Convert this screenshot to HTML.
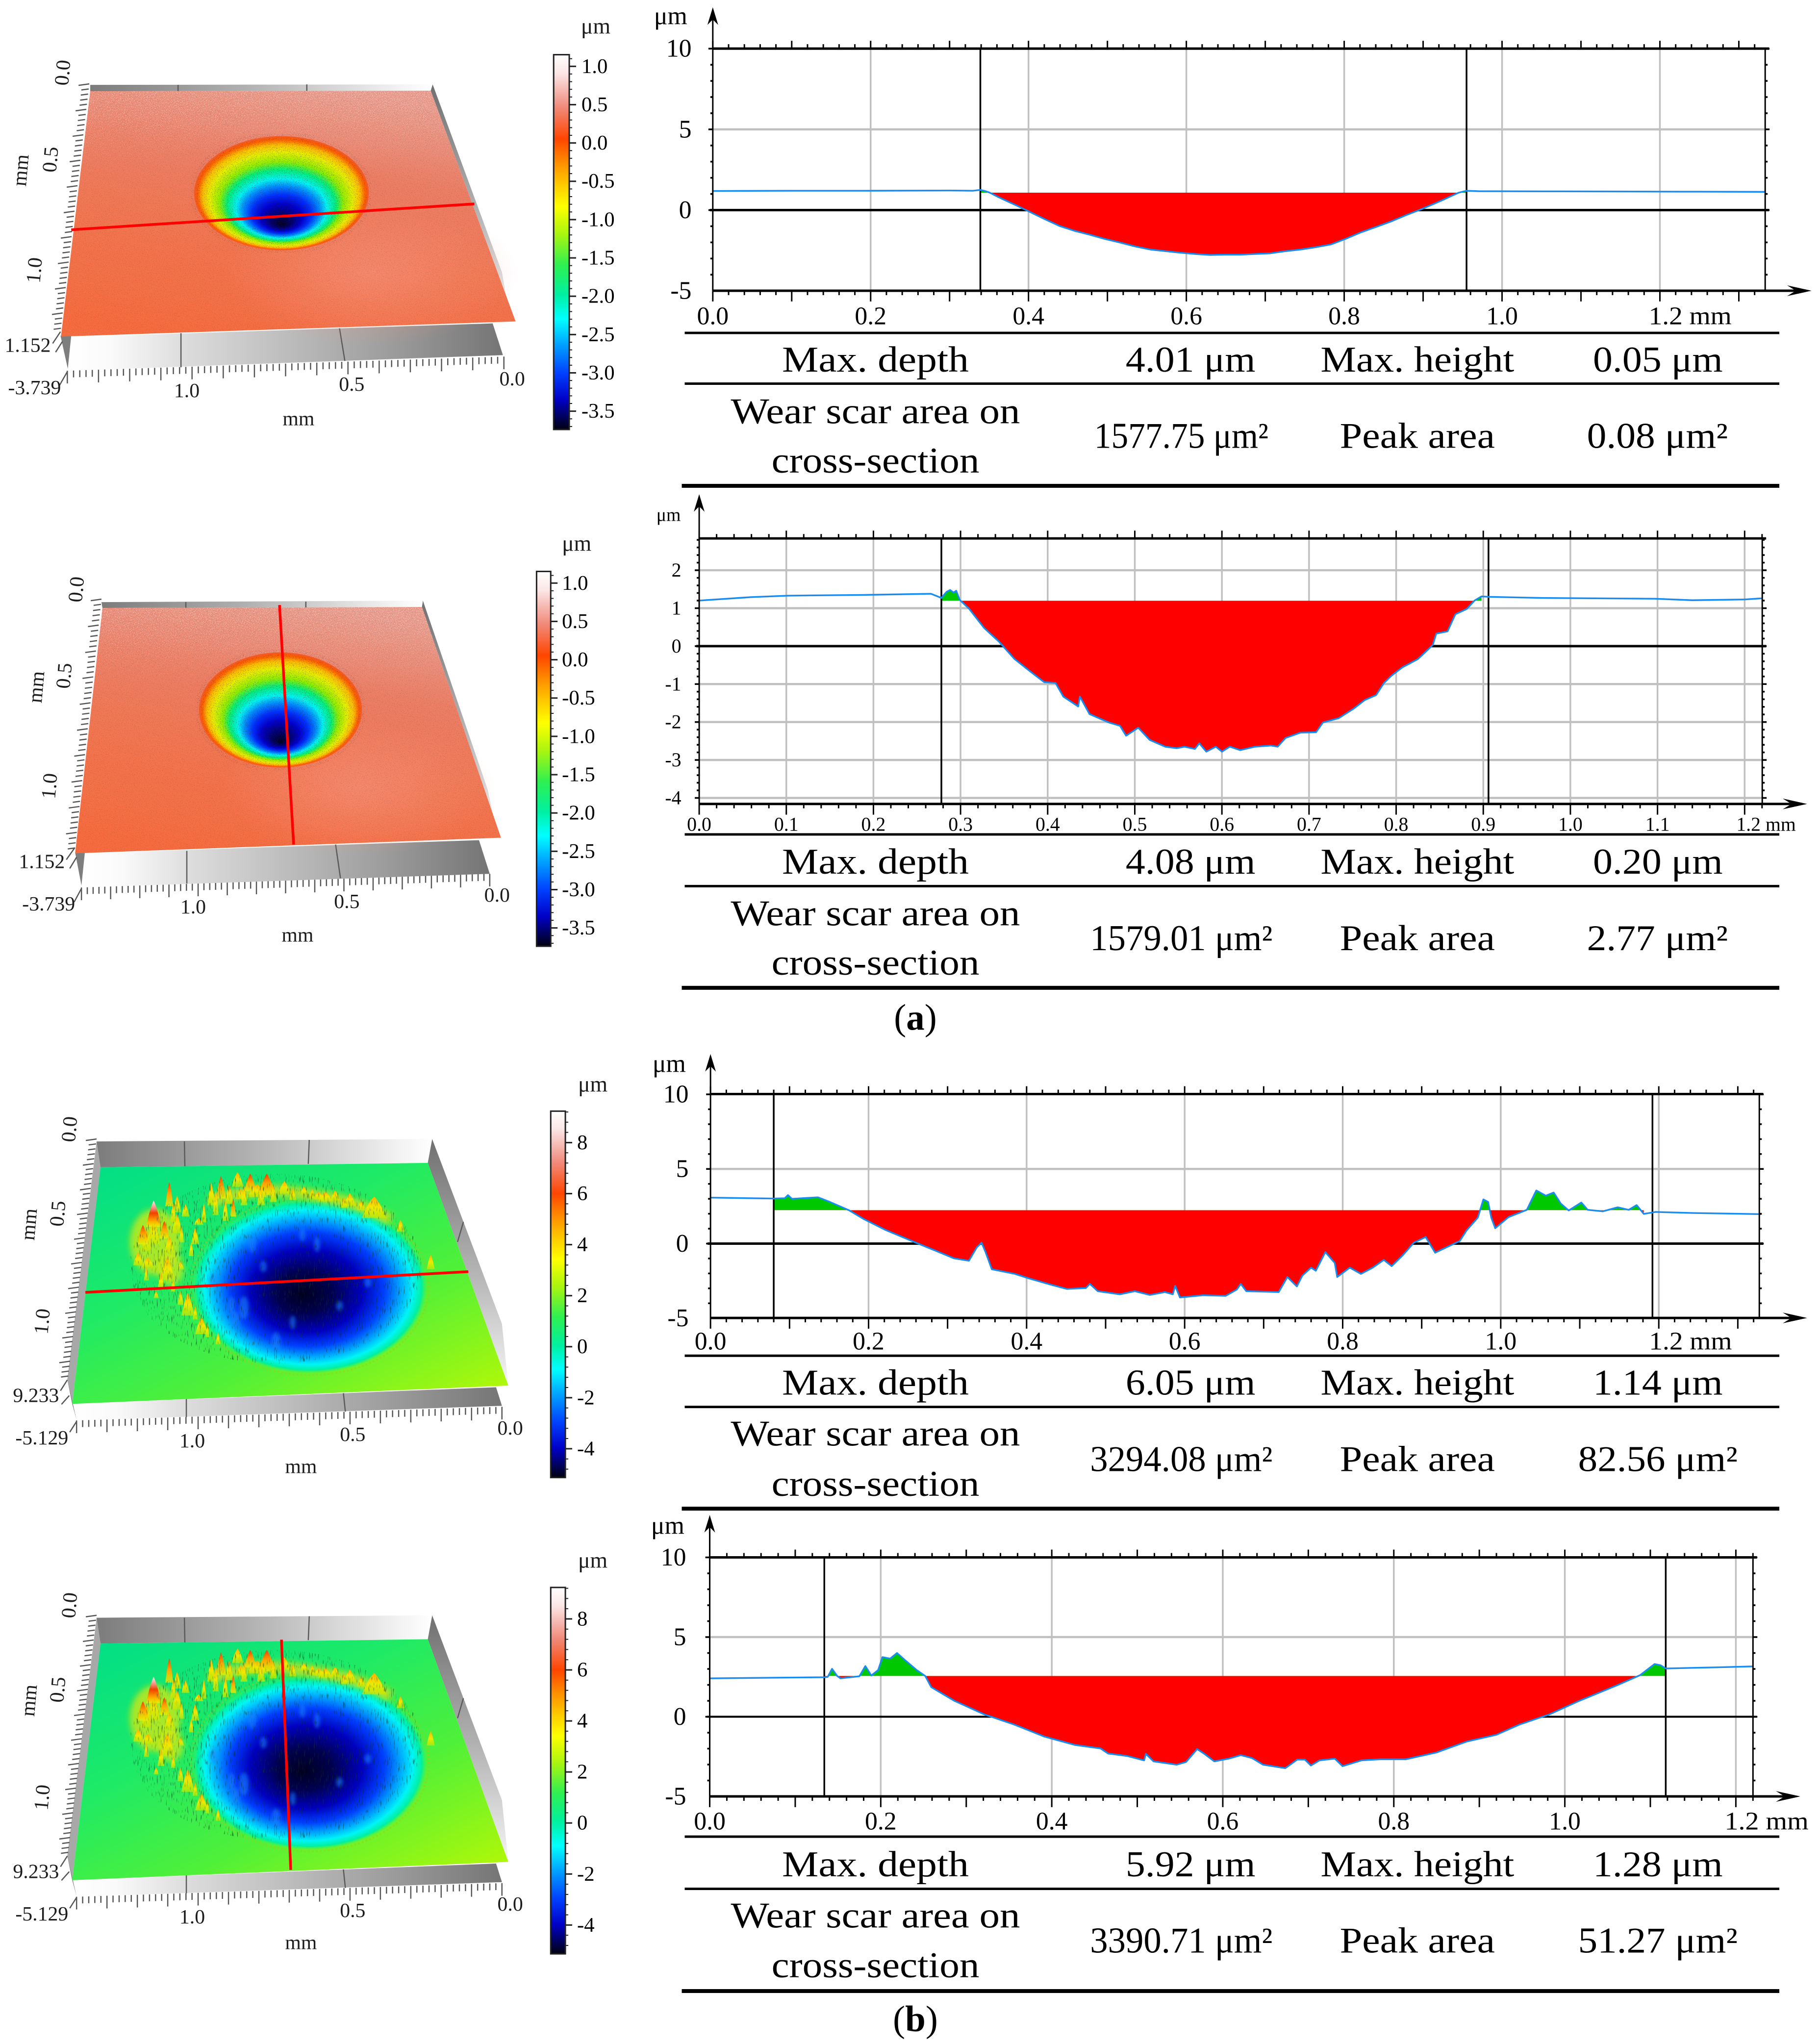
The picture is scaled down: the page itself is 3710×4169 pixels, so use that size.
<!DOCTYPE html>
<html lang="en">
<head>
<meta charset="utf-8">
<title>Wear scar topography and cross-section profiles</title>
<style>
html,body{margin:0;padding:0;background:#fff;}
svg{display:block;}
text{font-family:"Liberation Serif","DejaVu Serif",serif;fill:#000;}
.tb{font-size:75px;text-anchor:middle;}
.lb{font-size:42px;fill:#1c1c1c;text-anchor:middle;dominant-baseline:central;}
.lr{font-size:42px;fill:#1c1c1c;text-anchor:end;dominant-baseline:central;}
.um{font-size:46px;fill:#1c1c1c;}
</style>
</head>
<body>
<svg id="figure" width="3710" height="4169" viewBox="0 0 3710 4169">
<defs>
  <linearGradient id="colormap" x1="0" y1="0" x2="0" y2="1">
    <stop offset="0" stop-color="#ffffff"/><stop offset=".05" stop-color="#fbe6e6"/><stop offset=".14" stop-color="#f08a7a"/>
    <stop offset=".225" stop-color="#ff4500"/><stop offset=".29" stop-color="#ff9000"/><stop offset=".345" stop-color="#ffc800"/>
    <stop offset=".405" stop-color="#ffff00"/><stop offset=".48" stop-color="#a8f510"/><stop offset=".56" stop-color="#30f050"/>
    <stop offset=".64" stop-color="#00f0a0"/><stop offset=".705" stop-color="#00ffff"/><stop offset=".775" stop-color="#00a0ff"/>
    <stop offset=".85" stop-color="#0040ff"/><stop offset=".92" stop-color="#0000c8"/><stop offset="1" stop-color="#000010"/>
  </linearGradient>
  <linearGradient id="surfOrange" x1=".6" y1="0" x2=".3" y2="1">
    <stop offset="0" stop-color="#e8998a"/><stop offset=".3" stop-color="#ec7f66"/><stop offset=".62" stop-color="#f27650"/><stop offset="1" stop-color="#f66c40"/>
  </linearGradient>
  <linearGradient id="fadeDown" x1="0" y1="0" x2="0" y2="1">
    <stop offset="0" stop-color="#000"/><stop offset="1" stop-color="#000" stop-opacity="0"/>
  </linearGradient>
  <radialGradient id="surfGlow" cx=".5" cy=".5" r=".5">
    <stop offset="0" stop-color="#f79884" stop-opacity=".55"/><stop offset="1" stop-color="#f79884" stop-opacity="0"/>
  </radialGradient>
  <linearGradient id="surfGreen" x1=".05" y1="0" x2=".95" y2="1">
    <stop offset="0" stop-color="#00de88"/><stop offset=".35" stop-color="#1eea66"/><stop offset=".65" stop-color="#50f038"/><stop offset="1" stop-color="#b4f806"/>
  </linearGradient>
  <linearGradient id="wallFront" x1="0" y1="0" x2="1" y2="0">
    <stop offset="0" stop-color="#ffffff"/><stop offset=".1" stop-color="#fafafa"/><stop offset=".27" stop-color="#dcdcdc"/><stop offset=".5" stop-color="#bdbdbd"/><stop offset=".75" stop-color="#9b9b9b"/><stop offset="1" stop-color="#757575"/>
  </linearGradient>
  <linearGradient id="wallBack" x1="0" y1="0" x2="1" y2="0">
    <stop offset="0" stop-color="#7c7c7c"/><stop offset=".45" stop-color="#b0b0b0"/><stop offset=".9" stop-color="#f2f2f2"/><stop offset="1" stop-color="#ffffff"/>
  </linearGradient>
  <linearGradient id="wallSide" x1="0" y1="0" x2="0" y2="1">
    <stop offset="0" stop-color="#707070"/><stop offset=".55" stop-color="#b5b5b5"/><stop offset="1" stop-color="#f5f5f5"/>
  </linearGradient>
  <radialGradient id="craterA" cx=".5" cy=".5" r=".5" fx=".5" fy=".78">
    <stop offset="0" stop-color="#000020"/><stop offset=".12" stop-color="#000070"/><stop offset=".24" stop-color="#0000d0"/><stop offset=".34" stop-color="#0030ff"/>
    <stop offset=".44" stop-color="#0090ff"/><stop offset=".52" stop-color="#00f5f5"/><stop offset=".62" stop-color="#00f080"/><stop offset=".71" stop-color="#90f000"/>
    <stop offset=".82" stop-color="#e8f000"/><stop offset=".9" stop-color="#ffc000"/><stop offset=".96" stop-color="#ff6000"/><stop offset="1" stop-color="#f05828"/>
  </radialGradient>
  <radialGradient id="craterB" cx=".5" cy=".5" r=".5" fx=".47" fy=".55">
    <stop offset="0" stop-color="#000020"/><stop offset=".24" stop-color="#000050"/><stop offset=".48" stop-color="#0000c0"/><stop offset=".66" stop-color="#0040ff"/>
    <stop offset=".8" stop-color="#00b0ff"/><stop offset=".89" stop-color="#00f5f5"/><stop offset=".96" stop-color="#00f0a0"/><stop offset="1" stop-color="#40f060" stop-opacity=".2"/>
  </radialGradient>
  <linearGradient id="spikeYellow" x1="0" y1="0" x2="0" y2="1">
    <stop offset="0" stop-color="#ffb000"/><stop offset=".5" stop-color="#f0e800"/><stop offset="1" stop-color="#c8e800" stop-opacity=".7"/>
  </linearGradient>
  <linearGradient id="spikeOrange" x1="0" y1="0" x2="0" y2="1">
    <stop offset="0" stop-color="#f04000"/><stop offset=".45" stop-color="#ffa000"/><stop offset="1" stop-color="#e8f000" stop-opacity=".8"/>
  </linearGradient>
  <linearGradient id="spikeWhite" x1="0" y1="0" x2="0" y2="1">
    <stop offset="0" stop-color="#ffeeee"/><stop offset=".28" stop-color="#f09080"/><stop offset=".48" stop-color="#f04000"/><stop offset=".8" stop-color="#ffb000"/><stop offset="1" stop-color="#e8f000"/>
  </linearGradient>
  <filter id="speckDark" x="0" y="0" width="1" height="1" color-interpolation-filters="sRGB">
    <feTurbulence type="fractalNoise" baseFrequency=".7" numOctaves="2" seed="4"/>
    <feColorMatrix type="matrix" values="0 0 0 0 .25  0 0 0 0 .12  0 0 0 0 .1  6 0 0 0 -3.5"/>
    <feComposite in2="SourceAlpha" operator="in"/>
  </filter>
  <filter id="speckLight" x="0" y="0" width="1" height="1" color-interpolation-filters="sRGB">
    <feTurbulence type="fractalNoise" baseFrequency=".6" numOctaves="2" seed="9"/>
    <feColorMatrix type="matrix" values="0 0 0 0 1  0 0 0 0 .92  0 0 0 0 .9  6 0 0 0 -3.2"/>
    <feComposite in2="SourceAlpha" operator="in"/>
  </filter>
  <filter id="streakDark" x="0" y="0" width="1" height="1" color-interpolation-filters="sRGB">
    <feTurbulence type="fractalNoise" baseFrequency=".5 .06" numOctaves="2" seed="7"/>
    <feColorMatrix type="matrix" values="0 0 0 0 .05  0 0 0 0 .22  0 0 0 0 .12  7 0 0 0 -4.3"/>
    <feComposite in2="SourceAlpha" operator="in"/>
  </filter>
  <filter id="soft" x="-30%" y="-30%" width="160%" height="160%"><feGaussianBlur stdDeviation="3.5"/></filter>
  <filter id="softWide" x="-20%" y="-20%" width="140%" height="140%"><feGaussianBlur stdDeviation="6"/></filter>
</defs>

<!-- 3D panel layers are inserted here -->
<g id="panels"></g>
<g id="charts"></g>

<!-- Panel 1 labels -->
<g transform="matrix(.9949 0 0 .9949 0 0)">
  <text class="lb" x="129" y="149" transform="rotate(-85 129 149)">0.0</text>
  <text class="lb" x="104" y="327" transform="rotate(-85 104 327)">0.5</text>
  <text class="lb" x="43" y="349" transform="rotate(-85 43 349)">mm</text>
  <text class="lb" x="71" y="554" transform="rotate(-85 71 554)">1.0</text>
  <text class="lr" x="104" y="708">1.152</text>
  <text class="lr" x="125" y="795">-3.739</text>
  <text class="lb" x="383" y="801">1.0</text>
  <text class="lb" x="721" y="788">0.5</text>
  <text class="lb" x="1050" y="777">0.0</text>
  <text class="lb" x="612" y="859">mm</text>
  <text class="um" x="1191" y="69">μm</text>
</g>
<!-- Panel 2 labels -->
<g transform="matrix(.9949 0 0 .9949 0 5.36)">
  <text class="lb" x="157" y="1203" transform="rotate(-85 157 1203)">0.0</text>
  <text class="lb" x="132" y="1380" transform="rotate(-85 132 1380)">0.5</text>
  <text class="lb" x="75" y="1403" transform="rotate(-85 75 1403)">mm</text>
  <text class="lb" x="102" y="1606" transform="rotate(-85 102 1606)">1.0</text>
  <text class="lr" x="133" y="1761">1.152</text>
  <text class="lr" x="154" y="1848">-3.739</text>
  <text class="lb" x="396" y="1854">1.0</text>
  <text class="lb" x="711" y="1843">0.5</text>
  <text class="lb" x="1019" y="1830">0.0</text>
  <text class="lb" x="610" y="1912">mm</text>
  <text class="um" x="1152" y="1124">μm</text>
</g>
<!-- Panel 3 labels -->
<g transform="matrix(.9949 0 0 .9949 0 10.97)">
  <text class="lb" x="143" y="2304" transform="rotate(-85 143 2304)">0.0</text>
  <text class="lb" x="119" y="2477" transform="rotate(-85 119 2477)">0.5</text>
  <text class="lb" x="60" y="2499" transform="rotate(-85 60 2499)">mm</text>
  <text class="lb" x="87" y="2698" transform="rotate(-85 87 2698)">1.0</text>
  <text class="lr" x="121" y="2850">9.233</text>
  <text class="lr" x="140" y="2937">-5.129</text>
  <text class="lb" x="394" y="2943">1.0</text>
  <text class="lb" x="723" y="2930">0.5</text>
  <text class="lb" x="1046" y="2917">0.0</text>
  <text class="lb" x="617" y="2996">mm</text>
  <text class="um" x="1185" y="2227">μm</text>
</g>
<!-- Panel 4 labels -->
<g transform="matrix(.9949 0 0 .9949 0 15.91)">
  <text class="lb" x="143" y="3275" transform="rotate(-85 143 3275)">0.0</text>
  <text class="lb" x="119" y="3448" transform="rotate(-85 119 3448)">0.5</text>
  <text class="lb" x="60" y="3470" transform="rotate(-85 60 3470)">mm</text>
  <text class="lb" x="87" y="3669" transform="rotate(-85 87 3669)">1.0</text>
  <text class="lr" x="121" y="3821">9.233</text>
  <text class="lr" x="140" y="3908">-5.129</text>
  <text class="lb" x="394" y="3914">1.0</text>
  <text class="lb" x="723" y="3901">0.5</text>
  <text class="lb" x="1046" y="3888">0.0</text>
  <text class="lb" x="617" y="3967">mm</text>
  <text class="um" x="1185" y="3198">μm</text>
</g>

<!-- Table 1 -->
<g transform="matrix(.9949 0 0 .9949 6.63 0)">
  <rect x="1397" y="680" width="2244" height="5"/>
  <rect x="1397" y="784" width="2244" height="5"/>
  <rect x="1391" y="992" width="2250" height="8"/>
  <text class="tb" x="1788" y="762" textLength="383" lengthAdjust="spacingAndGlyphs">Max. depth</text>
  <text class="tb" x="2434" y="762" textLength="266" lengthAdjust="spacingAndGlyphs">4.01 μm</text>
  <text class="tb" x="2899" y="762" textLength="397" lengthAdjust="spacingAndGlyphs">Max. height</text>
  <text class="tb" x="3392" y="762" textLength="266" lengthAdjust="spacingAndGlyphs">0.05 μm</text>
  <text class="tb" x="1788" y="868" textLength="593" lengthAdjust="spacingAndGlyphs">Wear scar area on</text>
  <text class="tb" x="1788" y="969" textLength="426" lengthAdjust="spacingAndGlyphs">cross-section</text>
  <text class="tb" x="2415" y="918" textLength="357" lengthAdjust="spacingAndGlyphs">1577.75 μm²</text>
  <text class="tb" x="2899" y="918" textLength="318" lengthAdjust="spacingAndGlyphs">Peak area</text>
  <text class="tb" x="3391" y="918" textLength="289" lengthAdjust="spacingAndGlyphs">0.08 μm²</text>
</g>
<!-- Table 2 -->
<g transform="matrix(.9949 0 0 .9949 6.63 5.1)">
  <rect x="1397" y="1703" width="2244" height="5"/>
  <rect x="1397" y="1809" width="2244" height="5"/>
  <rect x="1391" y="2016" width="2250" height="8"/>
  <text class="tb" x="1788" y="1786" textLength="383" lengthAdjust="spacingAndGlyphs">Max. depth</text>
  <text class="tb" x="2434" y="1786" textLength="266" lengthAdjust="spacingAndGlyphs">4.08 μm</text>
  <text class="tb" x="2899" y="1786" textLength="397" lengthAdjust="spacingAndGlyphs">Max. height</text>
  <text class="tb" x="3392" y="1786" textLength="266" lengthAdjust="spacingAndGlyphs">0.20 μm</text>
  <text class="tb" x="1788" y="1892" textLength="593" lengthAdjust="spacingAndGlyphs">Wear scar area on</text>
  <text class="tb" x="1788" y="1993" textLength="426" lengthAdjust="spacingAndGlyphs">cross-section</text>
  <text class="tb" x="2415" y="1943" textLength="374" lengthAdjust="spacingAndGlyphs">1579.01 μm²</text>
  <text class="tb" x="2899" y="1943" textLength="318" lengthAdjust="spacingAndGlyphs">Peak area</text>
  <text class="tb" x="3391" y="1943" textLength="289" lengthAdjust="spacingAndGlyphs">2.77 μm²</text>
</g>
<text class="tb" x="1867" y="2100">(<tspan font-weight="bold">a</tspan>)</text>
<!-- Table 3 -->
<g transform="matrix(.9949 0 0 .9949 6.63 10.81)">
  <rect x="1397" y="2766" width="2244" height="5"/>
  <rect x="1397" y="2871" width="2244" height="5"/>
  <rect x="1391" y="3078" width="2250" height="8"/>
  <text class="tb" x="1788" y="2848" textLength="383" lengthAdjust="spacingAndGlyphs">Max. depth</text>
  <text class="tb" x="2434" y="2848" textLength="266" lengthAdjust="spacingAndGlyphs">6.05 μm</text>
  <text class="tb" x="2899" y="2848" textLength="397" lengthAdjust="spacingAndGlyphs">Max. height</text>
  <text class="tb" x="3392" y="2848" textLength="266" lengthAdjust="spacingAndGlyphs">1.14 μm</text>
  <text class="tb" x="1788" y="2953" textLength="593" lengthAdjust="spacingAndGlyphs">Wear scar area on</text>
  <text class="tb" x="1788" y="3056" textLength="426" lengthAdjust="spacingAndGlyphs">cross-section</text>
  <text class="tb" x="2415" y="3005" textLength="374" lengthAdjust="spacingAndGlyphs">3294.08 μm²</text>
  <text class="tb" x="2899" y="3005" textLength="318" lengthAdjust="spacingAndGlyphs">Peak area</text>
  <text class="tb" x="3392" y="3005" textLength="327" lengthAdjust="spacingAndGlyphs">82.56 μm²</text>
</g>
<!-- Table 4 -->
<g transform="matrix(.9949 0 0 .9949 6.63 15.71)">
  <rect x="1397" y="3747" width="2244" height="5"/>
  <rect x="1397" y="3854" width="2244" height="5"/>
  <rect x="1391" y="4062" width="2250" height="8"/>
  <text class="tb" x="1788" y="3831" textLength="383" lengthAdjust="spacingAndGlyphs">Max. depth</text>
  <text class="tb" x="2434" y="3831" textLength="266" lengthAdjust="spacingAndGlyphs">5.92 μm</text>
  <text class="tb" x="2899" y="3831" textLength="397" lengthAdjust="spacingAndGlyphs">Max. height</text>
  <text class="tb" x="3392" y="3831" textLength="266" lengthAdjust="spacingAndGlyphs">1.28 μm</text>
  <text class="tb" x="1788" y="3936" textLength="593" lengthAdjust="spacingAndGlyphs">Wear scar area on</text>
  <text class="tb" x="1788" y="4038" textLength="426" lengthAdjust="spacingAndGlyphs">cross-section</text>
  <text class="tb" x="2415" y="3987" textLength="374" lengthAdjust="spacingAndGlyphs">3390.71 μm²</text>
  <text class="tb" x="2899" y="3987" textLength="318" lengthAdjust="spacingAndGlyphs">Peak area</text>
  <text class="tb" x="3392" y="3987" textLength="327" lengthAdjust="spacingAndGlyphs">51.27 μm²</text>
</g>
<text class="tb" x="1867" y="4143">(<tspan font-weight="bold">b</tspan>)</text>
</svg>

<script>
// ---------- chart data (mm, μm) ----------
const profileX1 = [0,.1,.2,.3,.33,.339,.345,.351,.362,.372,.385,.401,.42,.439,.458,.477,.496,.515,.535,.554,.573,.592,.611,.63,.649,.668,.687,.706,.725,.745,.764,.783,.802,.821,.84,.859,.878,.897,.912,.926,.936,.945,.955,.97,1.05,1.15,1.25,1.333];
const profileY1 = [1.18,1.2,1.2,1.21,1.2,1.25,1.18,1.08,.8,.57,.28,-.1,-.55,-.98,-1.28,-1.52,-1.78,-2,-2.25,-2.44,-2.54,-2.64,-2.72,-2.78,-2.76,-2.76,-2.72,-2.68,-2.55,-2.44,-2.3,-2.13,-1.78,-1.38,-1.05,-.71,-.32,.04,.35,.65,.88,1.08,1.2,1.17,1.16,1.15,1.14,1.13];
const cursors1 = [.339,.955];
const level1 = 1.08;
const xLabels1 = ['0.0','0.2','0.4','0.6','0.8','1.0','1.2 mm'];
const yLabels1 = ['10','5','0','-5'];

const profileX2 = [0,.059,.102,.189,.266,.278,.284,.288,.292,.295,.299,.31,.327,.344,.362,.379,.396,.409,.418,.435,.437,.448,.47,.483,.49,.504,.517,.535,.548,.557,.569,.574,.582,.593,.6,.609,.621,.638,.656,.664,.673,.69,.708,.716,.734,.751,.764,.777,.786,.794,.807,.825,.842,.846,.859,.868,.881,.89,.898,.907,.967,1.097,1.14,1.2,1.22];
const profileY2 = [1.2,1.29,1.33,1.35,1.38,1.27,1.43,1.48,1.41,1.46,1.22,.98,.48,.12,-.34,-.65,-.95,-.97,-1.33,-1.59,-1.33,-1.79,-2.01,-2.1,-2.36,-2.15,-2.47,-2.65,-2.69,-2.65,-2.71,-2.56,-2.78,-2.65,-2.78,-2.65,-2.74,-2.65,-2.62,-2.65,-2.42,-2.28,-2.27,-2.01,-1.9,-1.65,-1.42,-1.29,-.97,-.79,-.56,-.34,.03,.33,.39,.84,.98,1.2,1.31,1.3,1.27,1.25,1.21,1.23,1.26];
const cursors2 = [.278,.906];
const level2 = 1.197;
const xLabels2 = ['0.0','0.1','0.2','0.3','0.4','0.5','0.6','0.7','0.8','0.9','1.0','1.1','1.2 mm'];
const yLabels2 = ['2','1','0','-1','-2','-3','-4'];

const profileX3 = [0,.08,.094,.098,.103,.136,.151,.175,.194,.222,.26,.289,.308,.327,.337,.343,.348,.356,.385,.404,.432,.451,.475,.48,.49,.518,.537,.556,.575,.585,.588,.594,.623,.652,.666,.671,.678,.719,.73,.742,.749,.76,.766,.778,.79,.793,.809,.823,.838,.852,.862,.876,.89,.905,.917,.948,.957,.971,.978,.984,.988,.993,1.01,1.033,1.045,1.057,1.067,1.076,1.086,1.102,1.11,1.129,1.148,1.162,1.172,1.181,1.196,1.243,1.33];
const profileY3 = [3.08,3.02,3.04,3.25,3,3.1,2.79,2.24,1.64,.9,.06,-.57,-.99,-1.15,-.25,.06,-.57,-1.72,-2.03,-2.35,-2.77,-3.04,-2.98,-2.7,-3.19,-3.4,-3.19,-3.44,-3.25,-3.4,-2.83,-3.61,-3.46,-3.5,-3.08,-2.7,-3.19,-3.25,-2.24,-2.87,-2.14,-1.61,-1.82,-.57,-1.3,-2.24,-1.61,-2.03,-1.61,-1.09,-1.51,-.78,.06,.44,-.61,.17,.9,1.74,2.96,2.79,1.74,1.03,1.78,2.26,3.56,3.21,3.42,2.68,2.22,2.75,2.26,2.16,2.43,2.26,2.58,1.99,2.12,2.05,1.97];
const cursors3 = [.08,1.192];
const level3 = 2.24;
const xLabels3 = ['0.0','0.2','0.4','0.6','0.8','1.0','1.2 mm'];
const yLabels3 = ['10','5','0','-5'];

const profileX4 = [0,.134,.138,.143,.149,.153,.175,.182,.189,.197,.202,.211,.219,.228,.242,.252,.259,.286,.321,.356,.391,.427,.457,.466,.488,.508,.51,.519,.546,.557,.57,.578,.59,.607,.621,.634,.647,.673,.687,.696,.703,.713,.731,.74,.762,.784,.814,.85,.885,.92,.947,.982,1.017,1.061,1.088,1.105,1.112,1.118,1.176,1.22];
const profileY4 = [2.41,2.48,2.5,3.01,2.56,2.41,2.54,3.18,2.59,2.93,3.74,3.65,4,3.57,2.93,2.56,1.86,1,.15,-.49,-1.24,-1.77,-1.99,-2.31,-2.46,-2.74,-2.33,-2.8,-3.01,-2.84,-2.03,-2.31,-2.8,-2.63,-2.41,-2.59,-3.01,-3.23,-2.69,-2.69,-3.06,-2.74,-2.63,-3.1,-2.74,-2.67,-2.67,-2.24,-1.56,-1.13,-.49,.15,1,1.97,2.61,3.31,3.23,3.03,3.1,3.16];
const cursors4 = [.134,1.118];
const level4 = 2.56;
const xLabels4 = ['0.0','0.2','0.4','0.6','0.8','1.0','1.2 mm'];
const yLabels4 = ['10','5','0','-5'];

const colorbarLabelsA = ['1.0','0.5','0.0','-0.5','-1.0','-1.5','-2.0','-2.5','-3.0','-3.5'];
const colorbarLabelsB = ['8','6','4','2','0','-2','-4'];

// decorative ridge bumps on the rough wear scar surface: cx, cy, rx, ry, style
const scarSpikes = [
 [300,2530,10,23,'spikeYellow'],[283,2570,10,13,'spikeYellow'],[303,2577,13,10,'spikeYellow'],[343,2590,15,23,'spikeYellow'],
 [347,2540,10,17,'spikeYellow'],[400,2523,8,17,'spikeYellow'],[370,2583,7,8,'spikeYellow'],[385,2663,13,23,'spikeYellow'],
 [320,2643,5,7,'spikeYellow'],[363,2457,8,17,'spikeYellow'],[363,2497,10,20,'spikeYellow'],[380,2470,8,13,'spikeYellow'],
 [315,2513,13,27,'spikeYellow'],[293,2520,12,20,'spikeOrange'],[315,2477,15,27,'spikeWhite'],[337,2510,10,18,'spikeOrange'],
 [347,2437,8,25,'spikeOrange'],[433,2437,8,23,'spikeYellow'],[453,2423,10,23,'spikeOrange'],[470,2437,8,20,'spikeYellow'],
 [487,2407,12,15,'spikeYellow'],[513,2413,12,18,'spikeOrange'],[547,2417,17,22,'spikeOrange'],[493,2437,10,10,'spikeYellow'],
 [527,2430,20,13,'spikeYellow'],[583,2423,12,13,'spikeYellow'],[623,2430,8,8,'spikeYellow'],[653,2440,12,8,'spikeYellow'],
 [687,2440,10,10,'spikeYellow'],[413,2707,13,17,'spikeYellow'],[447,2733,5,12,'spikeYellow'],[407,2493,10,7,'spikeYellow'],
 [767,2464,25,22,'spikeYellow'],[717,2448,12,13,'spikeYellow'],[667,2442,15,10,'spikeYellow'],[821,2502,8,12,'spikeYellow'],[883,2576,8,15,'spikeYellow'],
 [355,2475,6,20,'spikeYellow'],[372,2520,5,16,'spikeYellow'],[392,2550,5,14,'spikeYellow'],[418,2475,5,20,'spikeYellow'],[442,2455,6,25,'spikeYellow'],
 [462,2470,6,22,'spikeYellow'],[478,2465,6,18,'spikeOrange'],[500,2440,7,20,'spikeYellow'],[535,2440,8,20,'spikeYellow'],[560,2435,7,18,'spikeYellow'],
 [600,2437,7,12,'spikeYellow'],[640,2436,6,10,'spikeYellow'],[705,2455,8,10,'spikeYellow'],[740,2460,8,10,'spikeYellow'],[370,2650,6,14,'spikeYellow'],
 [400,2680,5,14,'spikeYellow'],[425,2715,4,15,'spikeYellow'],[300,2600,5,14,'spikeYellow'],[330,2615,7,18,'spikeYellow'],[355,2625,5,12,'spikeYellow']
];
const scarPits = [
 [500,2670,10,24],[483,2695,8,18],[517,2540,8,17],[566,2740,9,20],[696,2666,7,10],[754,2618,7,10],[438,2612,8,14],
 [475,2665,7,18],[620,2520,6,14],[650,2540,6,16],[540,2585,7,12],[600,2700,6,14]
];

// ---------- helpers ----------
const root = document.getElementById('figure');
const NS = root.namespaceURI;
function mk(tag, attrs, parent) {
  const el = document.createElementNS(NS, tag);
  for (const k in attrs) el.setAttribute(k, attrs[k]);
  parent.appendChild(el);
  return el;
}
function pts(list) { return list.map(p => p[0].toFixed(1) + ',' + p[1].toFixed(1)).join(' '); }
// zoom calibration for each panel region
const fit = (tx, ty) => 'matrix(.9949 0 0 .9949 ' + tx + ' ' + ty + ')';

// ---------- cross-section chart ----------
function drawChart(c) {
  const host = document.getElementById('charts');
  const g = mk('g', {transform:fit(c.tx, c.ty)}, host);
  
  
  const xS = mm => c.x0 + mm * c.pxPerMm;
  const yS = um => c.zeroY - um * c.pxPerUm;
  const xEnd = c.right;
  const xMaxMm = (xEnd - c.x0) / c.pxPerMm;

  // gridlines
  c.xLabels.forEach(lab => {
    const v = parseFloat(lab);
    if (v === 0) return;
    const ln = mk('line', {x1:xS(v), x2:xS(v), y1:c.top, y2:c.bottom, stroke:'#c0c0c0', 'stroke-width':3.5}, g);
    
    
  });
  c.yLabels.forEach(lab => {
    const v = parseFloat(lab);
    const y = yS(v);
    if (v === 0 || y <= c.top + 2 || y >= c.bottom - 2) return;
    const ln = mk('line', {x1:c.x0, x2:xEnd, y1:y, y2:y, stroke:'#c0c0c0', 'stroke-width':4.5}, g);
    
    
  });
  // zero line
  const zero = mk('line', {x1:c.x0-6, x2:xEnd+8, y1:yS(0), y2:yS(0), stroke:'#000', 'stroke-width':c.zeroW}, g);
  
  

  // filled areas between the cursors, split at the reference level
  const inside = [];
  c.px.forEach((x, i) => { if (x >= c.cursors[0] && x <= c.cursors[1]) inside.push([xS(x), yS(c.py[i])]); });
  const first = inside[0], last = inside[inside.length - 1];
  const lev = yS(c.level);
  const poly = inside.concat([[last[0], lev], [first[0], lev]]);
  const defs = mk('defs', {}, g);
  const cpR = mk('clipPath', {id:'below-' + c.id}, defs);
  mk('rect', {x:c.x0, y:lev, width:xEnd - c.x0, height:c.bottom - lev}, cpR);
  const cpG = mk('clipPath', {id:'above-' + c.id}, defs);
  mk('rect', {x:c.x0, y:c.top, width:xEnd - c.x0, height:lev - c.top}, cpG);
  const red = mk('polygon', {points:pts(poly), fill:'#ff0000', 'clip-path':'url(#below-' + c.id + ')'}, g);
  
  
  const green = mk('polygon', {points:pts(poly), fill:'#00c800', 'clip-path':'url(#above-' + c.id + ')'}, g);
  
  

  // cursors
  c.cursors.forEach(v => {
    const ln = mk('line', {x1:xS(v), x2:xS(v), y1:c.top, y2:c.bottom, stroke:'#000', 'stroke-width':3.5}, g);
    
    
  });

  // profile line
  const line = mk('polyline', {points:pts(c.px.map((x, i) => [xS(x), yS(c.py[i])])), fill:'none', stroke:'#1a8cf0', 'stroke-width':3.4, 'stroke-linejoin':'round'}, g);
  
  

  // frame
  const frame = mk('g', {stroke:'#000'}, g);
  
  
  mk('line', {x1:c.x0, x2:xEnd + 8, y1:c.top, y2:c.top, 'stroke-width':5}, frame);
  mk('line', {x1:c.x0, x2:c.arrowX - 20, y1:c.bottom, y2:c.bottom, 'stroke-width':5}, frame);
  mk('line', {x1:c.x0, x2:c.x0, y1:c.arrowTop + 16, y2:c.bottom, 'stroke-width':3}, frame);
  mk('line', {x1:xEnd, x2:xEnd, y1:c.top, y2:c.bottom, 'stroke-width':3}, frame);

  // x ticks on top and bottom
  const xt = mk('g', {stroke:'#000', 'stroke-width':3}, g);
  
  
  const nT = Math.floor(xMaxMm / 0.02 + 1e-6);
  for (let k = 0; k <= nT; k++) {
    const x = xS(k * 0.02);
    const major = k % 5 === 0;
    mk('line', {x1:x, x2:x, y1:c.top, y2:c.top - (major ? 16 : 9)}, xt);
    mk('line', {x1:x, x2:x, y1:c.bottom, y2:c.bottom + (major ? 22 : 9)}, xt);
  }
  // y ticks on both sides
  const yt = mk('g', {stroke:'#000', 'stroke-width':3.5}, g);
  
  
  const yMin = (c.zeroY - c.bottom) / c.pxPerUm, yMax = (c.zeroY - c.top) / c.pxPerUm;
  for (let v = Math.ceil(yMin / c.yMinor) * c.yMinor; v <= yMax + 1e-6; v += c.yMinor) {
    const y = yS(v);
    const major = c.yLabels.some(l => Math.abs(parseFloat(l) - v) < 1e-6);
    mk('line', {x1:c.x0 - (major ? 9 : 5), x2:c.x0, y1:y, y2:y}, yt);
    mk('line', {x1:xEnd, x2:xEnd + (major ? 9 : 5), y1:y, y2:y}, yt);
  }

  // arrows
  const upTip = c.arrowTop;
  const up = mk('polygon', {points:pts([[c.x0, upTip], [c.x0 + 11, upTip + 36], [c.x0, upTip + 25], [c.x0 - 11, upTip + 36]]), fill:'#000'}, g);
  
  
  const rt = mk('polygon', {points:pts([[c.arrowX, c.bottom], [c.arrowX - 50, c.bottom - 11], [c.arrowX - 32, c.bottom], [c.arrowX - 50, c.bottom + 11]]), fill:'#000'}, g);
  
  

  // tick labels
  c.xLabels.forEach(lab => {
    const v = parseFloat(lab);
    const hasUnit = lab.indexOf('mm') >= 0;
    const t = mk('text', {x:hasUnit ? xS(v) - c.unitShift : xS(v), y:c.xLabelY, 'font-size':c.font, 'text-anchor':hasUnit ? 'start' : 'middle'}, g);
    if (hasUnit) t.setAttribute('textLength', c.unitLen);
    if (hasUnit) t.setAttribute('lengthAdjust', 'spacingAndGlyphs');
    
    
    t.textContent = lab;
  });
  c.yLabels.forEach(lab => {
    const t = mk('text', {x:c.yLabelX, y:yS(parseFloat(lab)), 'font-size':c.font, 'text-anchor':'end', 'dominant-baseline':'central'}, g);
    
    
    t.textContent = lab;
  });
  const unit = mk('text', {x:c.unitX, y:c.unitY, 'font-size':c.unitFont}, g);
  
  
  unit.textContent = 'μm';
}

drawChart({id:'1', tx:6.63, ty:0, px:profileX1, py:profileY1, cursors:cursors1, level:level1, xLabels:xLabels1, yLabels:yLabels1,
  x0:1454.6, pxPerMm:1618, zeroY:430.7, pxPerUm:33.1, top:99.6, bottom:596, right:3612, arrowX:3707, arrowTop:15,
  yMinor:1, zeroW:5, font:52, xLabelY:665, yLabelX:1411, unitX:1334, unitY:50, unitFont:52, unitShift:23, unitLen:170});
drawChart({id:'2', tx:6.63, ty:5.1, px:profileX2, py:profileY2, cursors:cursors2, level:level2, xLabels:xLabels2, yLabels:yLabels2,
  x0:1426.7, pxPerMm:1786, zeroY:1319.5, pxPerUm:77.8, top:1098.7, bottom:1643, right:3606, arrowX:3698, arrowTop:1008,
  yMinor:.2, zeroW:5, font:40, xLabelY:1698, yLabelX:1390, unitX:1339, unitY:1063, unitFont:38, unitShift:17, unitLen:122});
drawChart({id:'3', tx:6.63, ty:10.81, px:profileX3, py:profileY3, cursors:cursors3, level:level3, xLabels:xLabels3, yLabels:yLabels3,
  x0:1449.9, pxPerMm:1620, zeroY:2538.6, pxPerUm:30.6, top:2232, bottom:2691, right:3600, arrowX:3698, arrowTop:2150,
  yMinor:1, zeroW:5, font:52, xLabelY:2756, yLabelX:1405, unitX:1331, unitY:2187, unitFont:52, unitShift:20, unitLen:170});
drawChart({id:'4', tx:6.63, ty:15.71, px:profileX4, py:profileY4, cursors:cursors4, level:level4, xLabels:xLabels4, yLabels:yLabels4,
  x0:1448.3, pxPerMm:1753, zeroY:3503.7, pxPerUm:32.67, top:3177, bottom:3667, right:3587, arrowX:3684, arrowTop:3090,
  yMinor:1, zeroW:4, font:52, xLabelY:3735, yLabelX:1400, unitX:1328, unitY:3129, unitFont:52, unitShift:23, unitLen:172});

// ---------- colour bars ----------
function drawColorbar(p) {
  const host = document.getElementById('panels');
  const g = mk('g', {transform:fit(0, p.ty)}, host);
  
  
  const yV = v => p.yRef - (v - p.vRef) * p.pxPerUnit;
  const top = yV(p.vMax), bottom = yV(p.vMin);
  const bar = mk('rect', {x:p.x, y:top, width:p.w, height:bottom - top, fill:'url(#colormap)', stroke:'#222', 'stroke-width':3}, g);
  
  
  const tk = mk('g', {stroke:'#222', 'stroke-width':2}, g);
  
  
  const start = Math.ceil(p.vMin / p.minor) * p.minor;
  for (let v = start; v <= p.vMax + 1e-6; v += p.minor) {
    const major = p.labels.some(l => Math.abs(parseFloat(l) - v) < 1e-6);
    mk('line', {x1:p.x + p.w, x2:p.x + p.w + (major ? 14 : 6), y1:yV(v), y2:yV(v), 'stroke-width':major ? 3 : 2}, tk);
  }
  p.labels.forEach(lab => {
    const t = mk('text', {x:p.labelX, y:yV(parseFloat(lab)), 'font-size':43, 'dominant-baseline':'central', fill:'#1c1c1c'}, g);
    
    
    t.textContent = lab;
  });
}

// ---------- 3D panel shell ----------
function hairTicks(g, a, b, n, dx, dy, longDx, longDy) {
  for (let i = 0; i <= n; i++) {
    const f = i / n;
    const x = a[0] + (b[0] - a[0]) * f, y = a[1] + (b[1] - a[1]) * f;
    const long = i % 5 === 0;
    mk('line', {x1:x, y1:y, x2:x + (long ? longDx : dx), y2:y + (long ? longDy : dy)}, g);
  }
}
function drawShell(s) {
  const host = document.getElementById('panels');
  const g = mk('g', {transform:fit(0, s.ty)}, host);
  
  
  const back = mk('polygon', {points:pts(s.back), fill:'url(#wallBack)'}, g);
  
  
  const side = mk('polygon', {points:pts(s.side), fill:'url(#wallSide)'}, g);
  
  
  if (s.left) {
    const left = mk('polygon', {points:pts(s.left), fill:'#a8a8a8'}, g);
    
    
  }
  const front = mk('polygon', {points:pts(s.front), fill:'url(#wallFront)'}, g);
  
  
  const sliver = mk('polygon', {points:pts(s.sliver), fill:'#7e7e7e'}, g);
  
  
  const wl = mk('g', {stroke:'#5a5a5a', 'stroke-width':2.5}, g);
  
  
  s.wallLines.forEach(l => mk('line', {x1:l[0], y1:l[1], x2:l[2], y2:l[3]}, wl));
  const tk = mk('g', {stroke:'#555', 'stroke-width':2.5}, g);
  
  
  hairTicks(tk, s.axisL[0], s.axisL[1], 48, -15, 2, -22, 3);
  hairTicks(tk, s.axisB[0], s.axisB[1], 70, 0, 14, 0, 26);
  s.leaders.forEach(l => mk('line', {x1:l[0], y1:l[1], x2:l[2], y2:l[3]}, tk));
}

// ---------- smooth (panel a) surface ----------
function drawSmooth(s) {
  const host = document.getElementById('panels');
  const g = mk('g', {transform:fit(0, s.ty)}, host);
  
  
  const surf = mk('polygon', {points:pts(s.surface), fill:'url(#surfOrange)'}, g);
  
  
  const glow = mk('ellipse', {cx:s.glow[0], cy:s.glow[1], rx:s.glow[2], ry:s.glow[3], fill:'url(#surfGlow)'}, g);
  
  
  const sp1 = mk('polygon', {points:pts(s.surface), fill:'#000', filter:'url(#speckDark)', opacity:.2}, g);
  
  
  const sp2 = mk('polygon', {points:pts(s.surfaceTop), fill:'url(#fadeDown)', filter:'url(#speckLight)', opacity:.6}, g);
  
  
  const halo = mk('ellipse', {cx:s.c[0], cy:s.c[1], rx:s.c[2] + 5, ry:s.c[3] + 5, fill:'none', stroke:'#000', 'stroke-width':9, filter:'url(#speckDark)', opacity:.3}, g);
  
  
  const cr = mk('ellipse', {cx:s.c[0], cy:s.c[1], rx:s.c[2], ry:s.c[3], fill:'url(#craterA)'}, g);
  
  
  const crS = mk('ellipse', {cx:s.c[0], cy:s.c[1], rx:s.c[2] - 3, ry:s.c[3] - 3, fill:'#000', filter:'url(#speckDark)', opacity:.55}, g);
  
  
  const red = mk('line', {x1:s.cut[0], y1:s.cut[1], x2:s.cut[2], y2:s.cut[3], stroke:'#ff0000', 'stroke-width':5.5}, g);
  
  
}

// ---------- rough (panel b) surface ----------
function drawRough(s) {
  const host = document.getElementById('panels');
  const g = mk('g', {transform:fit(0, s.ty) + ' translate(0,' + s.dy + ')'}, host);
  
  
  const surface = [[206,2382],[877,2373],[1042,2829.5],[148,2867]];
  const surf = mk('polygon', {points:pts(surface), fill:'url(#surfGreen)'}, g);
  
  
  const rimLine = mk('ellipse', {cx:635, cy:2626, rx:244, ry:182, fill:'none', stroke:'#a8c810', 'stroke-width':4, 'stroke-dasharray':'3 5', opacity:.5}, g);
  
  
  const cr = mk('ellipse', {cx:635, cy:2626, rx:240, ry:178, fill:'url(#craterB)'}, g);
  
  
  const pits = mk('g', {fill:'#1a88ff', opacity:.55, filter:'url(#soft)'}, g);
  
  
  scarPits.forEach(b => mk('ellipse', {cx:b[0], cy:b[1], rx:b[2], ry:b[3]}, pits));
  const mass = mk('g', {filter:'url(#softWide)'}, g);
  
  
  mk('ellipse', {cx:318, cy:2535, rx:52, ry:68, fill:'#d8e810', opacity:.75}, mass);
  mk('ellipse', {cx:350, cy:2590, rx:26, ry:34, fill:'#d8e810', opacity:.7}, mass);
  mk('path', {d:'M 430 2455 C 480 2430 560 2425 620 2436 C 680 2445 740 2455 800 2490', fill:'none', stroke:'#e8e010', 'stroke-width':24, opacity:.7}, mass);
  const spikes = mk('g', {}, g);
  
  
  scarSpikes.forEach(b => {
    const x = b[0], y = b[1], w = b[2], h = b[3];
    mk('path', {d:'M ' + (x - w) + ' ' + (y + h) + ' Q ' + (x - w * .55) + ' ' + (y - h * .35) + ' ' + x + ' ' + (y - h) +
      ' Q ' + (x + w * .55) + ' ' + (y - h * .35) + ' ' + (x + w) + ' ' + (y + h) + ' Z', fill:'url(#' + b[4] + ')'}, spikes);
  });
  const streak = mk('ellipse', {cx:565, cy:2590, rx:300, ry:195, fill:'#000', filter:'url(#streakDark)', opacity:.6}, g);
  
  
  const red = mk('line', {x1:s.cut[0], y1:s.cut[1], x2:s.cut[2], y2:s.cut[3], stroke:'#ff0000', 'stroke-width':5.5}, g);
  
  
}

// Panel 1
drawShell({id:'1', ty:0,
  back:[[185,174],[887,173],[883,186],[185,187]],
  side:[[887,173],[883,186],[1057,659],[1040,620],[1029,558]],
  front:[[146,691],[1010,663],[1031,728],[138,760]],
  sliver:[[124,688],[146,688],[139,756]],
  wallLines:[[371,683,371,753],[696,673,707,740],[365,174,365,189],[629,173,629,187]],
  axisL:[[183,172],[125,673]], axisB:[[138,760],[1033,731]],
  leaders:[[124,680,108,704],[128,700,114,722],[138,762,122,790]]});
drawSmooth({id:'1', ty:0, surface:[[185,187],[883,186],[1057,659],[125,690]], surfaceTop:[[185,187],[883,186],[945,355],[165,355]],
  glow:[760,560,300,150], c:[577,396,179,117], cut:[146,471,972.5,418]});
drawColorbar({id:'1', ty:0, x:1135, w:32, yRef:136, vRef:1, pxPerUnit:157.1, vMin:-3.739, vMax:1.152, minor:.1, labels:colorbarLabelsA, labelX:1192});

// Panel 2
drawShell({id:'2', ty:5.36,
  back:[[208,1229],[867,1226],[865,1239],[210,1241]],
  side:[[867,1226],[865,1239],[1027,1712],[1012,1670],[1000,1614]],
  front:[[174,1744],[982,1717],[1004,1786],[167,1814]],
  sliver:[[154,1742],[174,1742],[167,1810]],
  wallLines:[[383,1739,383,1806],[688,1726,698,1795],[381,1229,381,1241],[627,1228,627,1240]],
  axisL:[[208,1223],[154,1733]], axisB:[[167,1814],[1004,1786]],
  leaders:[[153,1733,136,1757],[157,1752,143,1775],[167,1816,152,1844]]});
drawSmooth({id:'2', ty:5.36, surface:[[210,1241],[865,1239],[1027,1712],[154,1744]], surfaceTop:[[210,1241],[865,1239],[925,1410],[190,1410]],
  glow:[735,1610,280,140], c:[575,1450,167,118], cut:[573,1235,602,1726]});
drawColorbar({id:'2', ty:5.36, x:1100, w:29, yRef:1190, vRef:1, pxPerUnit:157.1, vMin:-3.739, vMax:1.152, minor:.1, labels:colorbarLabelsA, labelX:1152});

// Panel 3
drawShell({id:'3', ty:10.97,
  back:[[198,2329],[886,2324],[877,2373],[206,2382]],
  side:[[886,2324],[877,2373],[1042,2829],[1029,2703]],
  left:[[198,2329],[206,2382],[148,2867],[138,2817]],
  front:[[148,2867],[1017,2833],[1029,2871],[157,2901]],
  sliver:[[138,2817],[148,2867],[157,2900]],
  wallLines:[[382,2855,382,2894],[704,2845,708,2883],[378,2329,379,2381],[634,2326,632,2375],[950,2494,938,2535]],
  axisL:[[198,2324],[140,2810]], axisB:[[157,2901],[1029,2873]],
  leaders:[[138,2818,124,2840],[142,2850,126,2868],[157,2903,143,2925]]});
drawRough({id:'3', ty:10.97, dy:0, cut:[175,2638.5,960,2596]});
drawColorbar({id:'3', ty:10.97, x:1129, w:30, yRef:2331.4, vRef:8, pxPerUnit:52.3, vMin:-5.129, vMax:9.233, minor:.4, labels:colorbarLabelsB, labelX:1183});

// Panel 4
drawShell({id:'4', ty:15.91,
  back:[[198,3300.5],[886,3295.5],[877,3344.5],[206,3353.5]],
  side:[[886,3295.5],[877,3344.5],[1042,3800.5],[1029,3674.5]],
  left:[[198,3300.5],[206,3353.5],[148,3838.5],[138,3788.5]],
  front:[[148,3838.5],[1017,3804.5],[1029,3842.5],[157,3872.5]],
  sliver:[[138,3788.5],[148,3838.5],[157,3871.5]],
  wallLines:[[382,3826.5,382,3865.5],[704,3816.5,708,3854.5],[378,3300.5,379,3352.5],[634,3297.5,632,3346.5],[950,3465.5,938,3506.5]],
  axisL:[[198,3295.5],[140,3781.5]], axisB:[[157,3872.5],[1029,3844.5]],
  leaders:[[138,3789,124,3811],[142,3821,126,3839],[157,3874,143,3896]]});
drawRough({id:'4', ty:15.91, dy:971.5, cut:[577,2374,596,2846]});
drawColorbar({id:'4', ty:15.91, x:1129, w:30, yRef:3302.9, vRef:8, pxPerUnit:52.3, vMin:-5.129, vMax:9.233, minor:.4, labels:colorbarLabelsB, labelX:1183});
</script>
</body>
</html>
